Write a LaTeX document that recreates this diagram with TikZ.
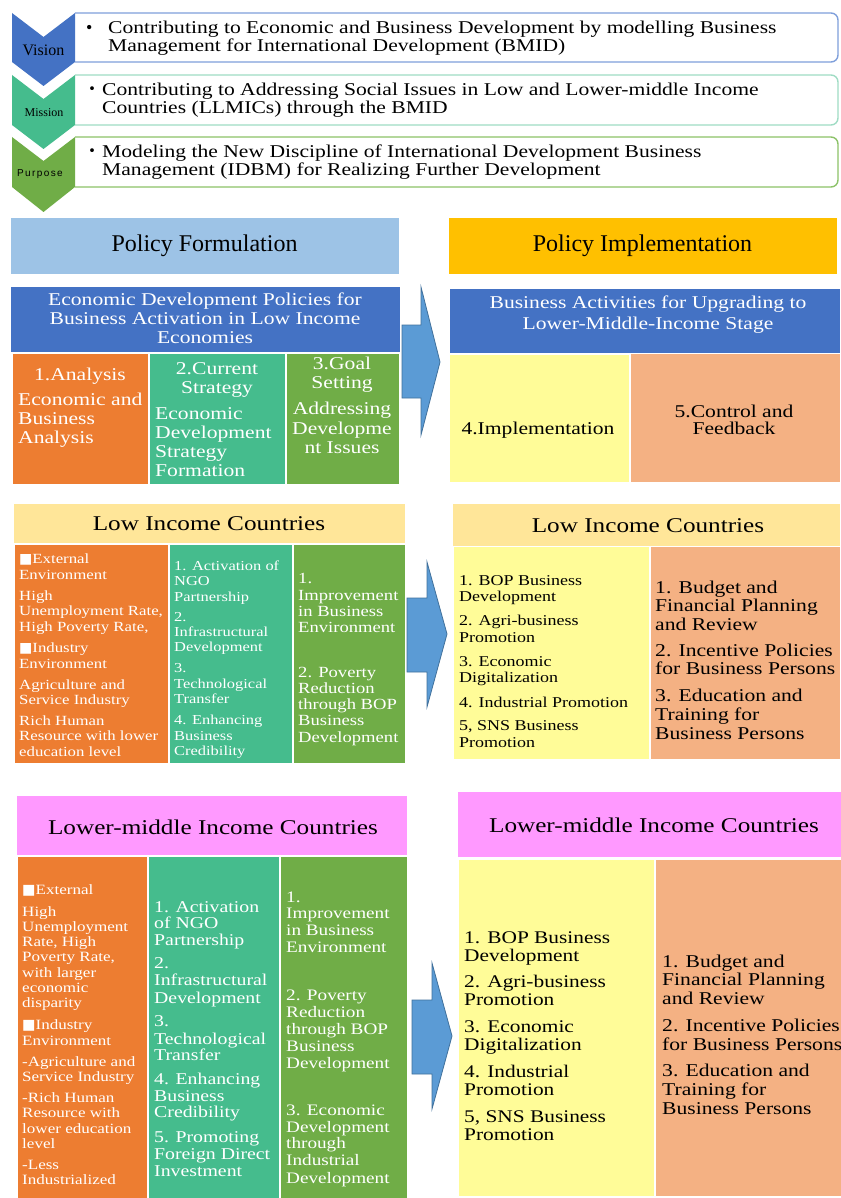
\documentclass[tikz,border=0pt]{standalone}
\usepackage{fontspec}
\setmainfont{Liberation Serif}
\newfontfamily\cent[FakeStretch=1.2]{Liberation Serif}
\newfontfamily\tnr{Liberation Serif}
\newfontfamily\arl[LetterSpace=14]{Liberation Sans}
\newfontfamily\dejavu{DejaVu Sans}
\newfontfamily\jpfont{Noto Sans CJK JP}

\definecolor{vblue}{HTML}{4472C4}
\definecolor{mteal}{HTML}{45BC8D}
\definecolor{pgreen}{HTML}{70AD47}
\definecolor{orng}{HTML}{ED7D31}
\definecolor{lblue}{HTML}{9DC3E6}
\definecolor{gold}{HTML}{FFC000}
\definecolor{lyellow}{HTML}{FFE699}
\definecolor{pyellow}{HTML}{FFFC98}
\definecolor{salmon}{HTML}{F4B183}
\definecolor{pink}{HTML}{FF99FF}
\definecolor{arrowblue}{HTML}{5B9BD5}
\definecolor{arrowedge}{HTML}{41719C}
\definecolor{vline}{HTML}{7F9FDB}
\definecolor{mline}{HTML}{9FDCC4}
\definecolor{pline}{HTML}{8CC268}

\newcommand\fsz[1]{\fontsize{#1}{#1}\selectfont}

% coloured cell as a named node, given by its corners
\newcommand\cell[6]{\node[cell, fill=#6, minimum width={#4-#2}, minimum height={#5-#3}] (#1) at ({(#2+#4)/2},{(#3+#5)/2}) {};}

% column of left-aligned lines: name, x, size, colour, list of y/text
\newcommand\colL[5]{\foreach \yy/\linetxt [count=\idx] in {#5}{\node[lineL, text=#4, font=\cent\fsz{#3}] (#1-\idx) at (#2,{\yy+0.34*#3}) {\linetxt};}}
% column of centred lines
\newcommand\colC[5]{\foreach \yy/\linetxt [count=\idx] in {#5}{\node[lineC, text=#4, font=\cent\fsz{#3}] (#1-\idx) at (#2,{\yy+0.34*#3}) {\linetxt};}}

\tikzset{
  cell/.style={inner sep=0pt, outer sep=0pt, draw=white, line width=0.8pt},
  lineL/.style={anchor=base west, inner sep=0pt},
  lineC/.style={anchor=base, inner sep=0pt},
  bigarrow/.style={fill=arrowblue, draw=arrowedge, line width=0.8pt, line join=miter},
  tbox/.style={line width=1.4pt, rounded corners=7pt},
}

\begin{document}
\begin{tikzpicture}[x=1pt,y=-1pt]
\useasboundingbox (0,0) rectangle (840,1198);
\fill[white] (0,0) rectangle (840,1198);

% ---- vision / mission / purpose ----
\draw[tbox, draw=vline] (75,13) -- (838,13) -- (838,62) -- (75,62);
\draw[tbox, draw=mline] (75,75) -- (838,75) -- (838,125) -- (75,125);
\draw[tbox, draw=pline] (75,137) -- (838,137) -- (838,187) -- (75,187);

\fill[vblue]  (12,13) -- (43.5,37) -- (75,13) -- (75,62) -- (43.5,86) -- (12,62) -- cycle;
\fill[mteal]  (12,75) -- (43.5,99) -- (75,75) -- (75,125) -- (43.5,149) -- (12,125) -- cycle;
\fill[pgreen] (12,137) -- (43.5,161) -- (75,137) -- (75,187) -- (43.5,212) -- (12,187) -- cycle;

\node[font=\tnr\fsz{16}] (vis) at (43.5,50) {Vision};
\node[font=\tnr\fsz{12}] (mis) at (44,113) {Mission};
\node[font=\arl\fsz{10}] (pur) at (40,174) {Purpose};

\node[lineL, font=\tnr\fsz{18}] (vb) at (86,34) {•};
\node[lineL, font=\cent\fsz{18}] (v1) at (108,34) {Contributing to Economic and Business Development by modelling Business};
\node[lineL, font=\cent\fsz{18}] (v2) at (108,52) {Management for International Development (BMID)};
\node[lineL, font=\jpfont\fsz{18}] (mb) at (83,96) {・};
\node[lineL, font=\cent\fsz{18}] (m1) at (102,96) {Contributing to Addressing Social Issues in Low and Lower-middle Income};
\node[lineL, font=\cent\fsz{18}] (m2) at (102,114) {Countries (LLMICs) through the BMID};
\node[lineL, font=\jpfont\fsz{18}] (pb) at (83,158) {・};
\node[lineL, font=\cent\fsz{18}] (p1) at (102,158) {Modeling the New Discipline of International Development Business};
\node[lineL, font=\cent\fsz{18}] (p2) at (102,176) {Management (IDBM) for Realizing Further Development};

% ---- policy headers ----
\cell{pf}{10}{217}{399}{274}{lblue}
\cell{pi}{448}{217}{837}{274}{gold}
\node[font=\tnr\fsz{24}] at (pf) {Policy Formulation};
\node[font=\tnr\fsz{24}] at (pi) {Policy Implementation};

% ---- policy steps ----
\cell{edp}{10}{286}{400}{352}{vblue}
\colC{edpt}{205}{18}{white}{299/{Economic Development Policies for},318/{Business Activation in Low Income},337/Economies}
\cell{an}{12}{353}{148}{484}{orng}
\colC{ant}{80}{18}{white}{374/1.Analysis}
\colL{anl}{18}{18}{white}{399/{Economic and},418/Business,437/Analysis}
\cell{cs}{149}{353}{285}{484}{mteal}
\colC{cst}{217}{18}{white}{368/2.Current,387/Strategy}
\colL{csl}{155}{18}{white}{413/Economic,432/Development,451/Strategy,470/Formation}
\cell{gs}{286}{353}{399}{484}{pgreen}
\colC{gst}{342}{18}{white}{363/3.Goal,382/Setting,408/Addressing,428/Developme,447/{nt Issues}}

\draw[bigarrow] (402,325) -- (421,325) -- (421,287) -- (440,362) -- (421,435) -- (421,398) -- (402,398) -- cycle;

\cell{ba}{449}{288}{840}{353}{vblue}
\colC{bat}{648}{18}{white}{302/{Business Activities for Upgrading to},323/{Lower-Middle-Income Stage}}
\cell{im}{449}{354}{629}{482}{pyellow}
\colC{imt}{538}{18}{black}{428/4.Implementation}
\cell{cf}{630}{353}{840}{482}{salmon}
\colC{cft}{734}{18}{black}{411/{5.Control and},428/Feedback}

% ---- low income countries ----
\cell{lih}{13}{503}{405}{543}{lyellow}
\colC{liht}{209}{21}{black}{523/{Low Income Countries}}
\cell{lio}{14}{544}{168}{763}{orng}
\colL{liol}{19}{14}{white}{559/{{\dejavu■}External},575/Environment,596/High,611/{Unemployment Rate,},627/{High Poverty Rate,},648/{{\dejavu■}Industry},664/Environment,685/{Agriculture and},700/{Service Industry},721/{Rich Human},736/{Resource with lower},752/{education level}}
\cell{lit}{169}{544}{292}{763}{mteal}
\colL{litl}{174}{13.7}{white}{566/{1. Activation of},581/NGO,597/Partnership,617/2.,632/Infrastructural,647/Development,668/3.,684/Technological,699/Transfer,720/{4. Enhancing},736/Business,751/Credibility}
\cell{lig}{293}{544}{405}{763}{pgreen}
\colL{ligl}{298}{15.5}{white}{578/1.,595/Improvement,611/{in Business},627/Environment,672/{2. Poverty},688/Reduction,704/{through BOP},720/Business,737/Development}

\draw[bigarrow] (407,598) -- (427,598) -- (427,562) -- (447,634) -- (427,707) -- (427,672) -- (407,672) -- cycle;

\cell{rih}{452}{503}{840}{546}{lyellow}
\colC{riht}{648}{21}{black}{525/{Low Income Countries}}
\cell{riy}{453}{546}{649}{759}{pyellow}
\colL{riyl}{459}{15}{black}{580/{1. BOP Business},596/Development,620/{2. Agri-business},637/Promotion,661/{3. Economic},677/Digitalization,702/{4. Industrial Promotion},725/{5, SNS Business},742/Promotion}
\cell{ris}{650}{546}{840}{759}{salmon}
\colL{risl}{655}{18}{black}{587/{1. Budget and},605/{Financial Planning},624/{and Review},650/{2. Incentive Policies},668/{for Business Persons},695/{3. Education and},714/{Training for},733/{Business Persons}}

% ---- lower-middle income countries ----
\cell{lmh}{16}{795}{407}{855}{pink}
\colC{lmht}{213}{21}{black}{827/{Lower-middle Income Countries}}
\cell{lmo}{17}{856}{147}{1200}{orng}
\colL{lmol}{22}{14.2}{white}{890/{{\dejavu■}External},912/High,927/Unemployment,942/{Rate, High},957/{Poverty Rate,},973/{with larger},988/economic,1003/disparity,1025/{{\dejavu■}Industry},1041/Environment,1062/{-Agriculture and},1077/{Service Industry},1098/{-Rich Human},1113/{Resource with},1129/{lower education},1144/level,1165/-Less,1180/Industrialized}
\cell{lmt}{148}{856}{279}{1200}{mteal}
\colL{lmtl}{154}{16.5}{white}{907/{1. Activation},923/{of NGO},940/Partnership,963/2.,980/Infrastructural,998/Development,1021/3.,1039/Technological,1055/Transfer,1079/{4. Enhancing},1096/Business,1112/Credibility,1137/{5. Promoting},1154/{Foreign Direct},1171/Investment}
\cell{lmg}{280}{856}{407}{1200}{pgreen}
\colL{lmgl}{286}{16}{white}{897/1.,913/Improvement,930/{in Business},947/Environment,995/{2. Poverty},1012/Reduction,1029/{through BOP},1046/Business,1063/Development,1110/{3. Economic},1127/Development,1143/through,1160/Industrial,1178/Development}

\draw[bigarrow] (412,1000) -- (432,1000) -- (432,963) -- (452,1036) -- (432,1109) -- (432,1074) -- (412,1074) -- cycle;

\cell{rmh}{457}{791}{842}{857}{pink}
\colC{rmht}{654}{21}{black}{825/{Lower-middle Income Countries}}
\cell{rmy}{458}{859}{654}{1196}{pyellow}
\colL{rmyl}{464}{17.8}{black}{937/{1. BOP Business},955/Development,981/{2. Agri-business},999/Promotion,1026/{3. Economic},1044/Digitalization,1071/{4. Industrial},1089/Promotion,1116/{5, SNS Business},1134/Promotion}
\cell{rms}{655}{859}{842}{1196}{salmon}
\colL{rmsl}{662}{18}{black}{961/{1. Budget and},979/{Financial Planning},998/{and Review},1025/{2. Incentive Policies},1044/{for Business Persons},1070/{3. Education and},1089/{Training for},1108/{Business Persons}}
\end{tikzpicture}
\end{document}
